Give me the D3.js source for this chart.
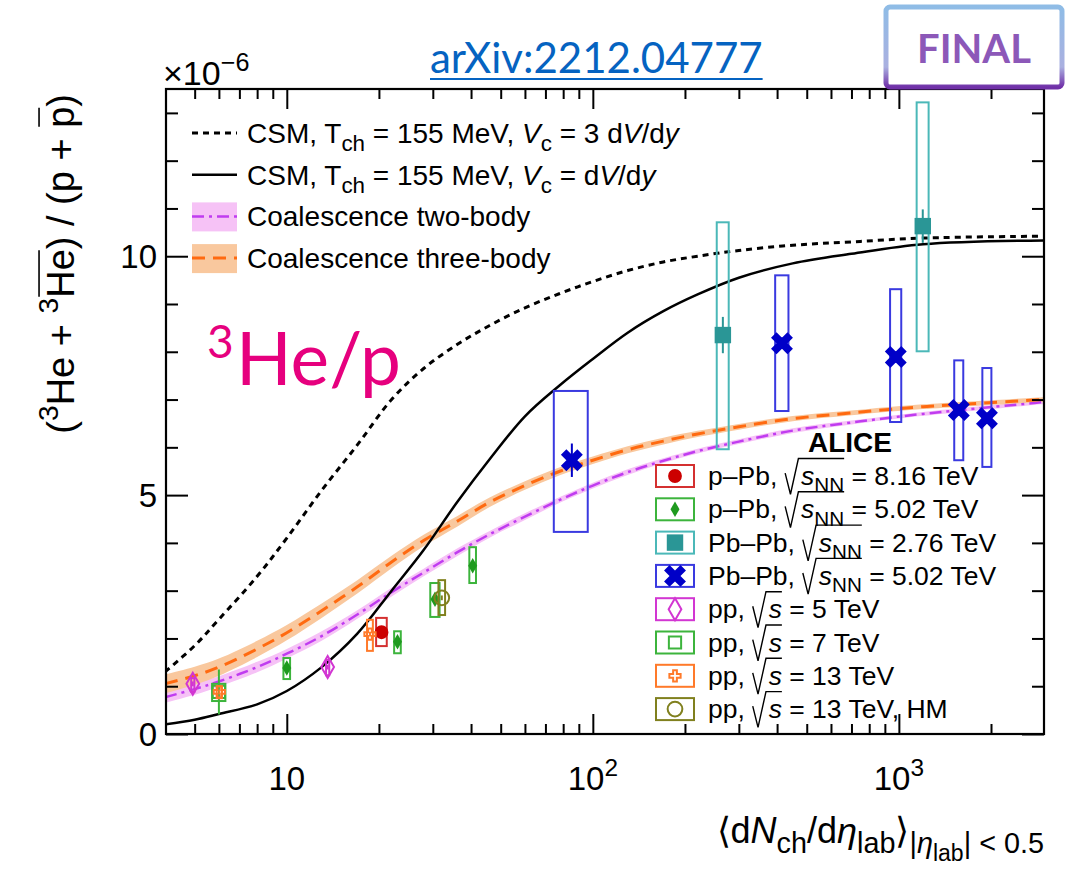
<!DOCTYPE html>
<html>
<head>
<meta charset="utf-8">
<script src="https://cdn.jsdelivr.net/npm/d3@7"></script>
<style>
  body { margin: 0; background: #fff; }
  svg { font-family: "Liberation Sans", Arial, sans-serif; }
  text { white-space: pre; }
</style>
</head>
<body>
<svg id="chart" width="1071" height="874"></svg>
<script>
// ---- data (ratio in units of 1e-6) ----
var modelX = [4, 5, 6, 8, 10, 13, 17, 22, 28, 36, 46, 60, 78, 100, 130, 170, 220, 300, 450, 700, 1200, 3000];
var csm3Y  = [1.3, 1.85, 2.4, 3.3, 4.1, 5.1, 6.05, 7.0, 7.65, 8.15, 8.55, 8.92, 9.22, 9.47, 9.7, 9.88, 10.0, 10.12, 10.23, 10.3, 10.38, 10.42];
var csm1Y  = [0.2, 0.3, 0.42, 0.62, 0.9, 1.4, 2.1, 3.0, 3.85, 4.85, 5.75, 6.65, 7.3, 7.85, 8.4, 8.85, 9.2, 9.55, 9.85, 10.05, 10.25, 10.33];
var coal2Y = [0.77, 0.94, 1.1, 1.4, 1.68, 2.05, 2.5, 2.97, 3.38, 3.8, 4.18, 4.55, 4.9, 5.2, 5.48, 5.72, 5.92, 6.12, 6.35, 6.52, 6.7, 6.95];
var coal2W = [0.12, 0.12, 0.11, 0.11, 0.1, 0.1, 0.09, 0.09, 0.08, 0.08, 0.07, 0.07, 0.06, 0.06, 0.06, 0.05, 0.05, 0.05, 0.05, 0.04, 0.04, 0.04];
var coal3Y = [1.05, 1.22, 1.4, 1.78, 2.12, 2.58, 3.08, 3.6, 4.05, 4.45, 4.85, 5.2, 5.5, 5.73, 5.95, 6.13, 6.28, 6.43, 6.6, 6.72, 6.85, 7.0];
var coal3W = [0.2, 0.19, 0.18, 0.17, 0.16, 0.15, 0.14, 0.13, 0.12, 0.11, 0.1, 0.09, 0.085, 0.08, 0.075, 0.07, 0.065, 0.06, 0.055, 0.05, 0.05, 0.05];

// x, y, stat error, systematic box low/high, relative x half-width of the box
var pPb816 = [{x: 20.4, y: 2.13, stat: 0.06, lo: 1.84, hi: 2.43, dx: 0.04}];
var pPb502 = [
  {x: 10.0, y: 1.38, stat: 0.06, lo: 1.15, hi: 1.59, dx: 0.025},
  {x: 23.0, y: 1.93, stat: 0.06, lo: 1.69, hi: 2.15, dx: 0.025},
  {x: 30.5, y: 2.82, stat: 0.08, lo: 2.45, hi: 3.16, dx: 0.035},
  {x: 40.5, y: 3.52, stat: 0.08, lo: 3.16, hi: 3.91, dx: 0.025}];
var PbPb276 = [
  {x: 266, y: 8.35, stat: 0.38, lo: 5.96, hi: 10.71, dx: 0.045},
  {x: 1197, y: 10.63, stat: 0.35, lo: 8.01, hi: 13.22, dx: 0.045}];
var PbPb502 = [
  {x: 85.4, y: 5.73, stat: 0.35, lo: 4.23, hi: 7.18, dx: 0.127},
  {x: 415, y: 8.18, stat: 0.12, lo: 6.76, hi: 9.60, dx: 0.05},
  {x: 977, y: 7.89, stat: 0.12, lo: 6.53, hi: 9.31, dx: 0.042},
  {x: 1570, y: 6.78, stat: 0.12, lo: 5.73, hi: 7.82, dx: 0.034},
  {x: 1940, y: 6.61, stat: 0.12, lo: 5.59, hi: 7.66, dx: 0.034}];
var pp5 = [
  {x: 4.93, y: 1.05, stat: 0.05, lo: 0.88, hi: 1.17, dx: 0.012},
  {x: 13.6, y: 1.40, stat: 0.05, lo: 1.23, hi: 1.55, dx: 0.012}];
var pp7 = [{x: 6.0, y: 0.88, stat: 0.47, lo: 0.69, hi: 1.05, dx: 0.05}];
var pp13 = [
  {x: 6.02, y: 0.88, stat: 0.05, lo: 0.75, hi: 1.0, dx: 0.02},
  {x: 18.7, y: 2.09, stat: 0.05, lo: 1.74, hi: 2.39, dx: 0.022}];
var pp13HM = [{x: 32.1, y: 2.85, stat: 0.05, lo: 2.49, hi: 3.22, dx: 0.025}];

var seriesNames = [
  "p–Pb, √{~{s}_{NN}} = 8.16 TeV",
  "p–Pb, √{~{s}_{NN}} = 5.02 TeV",
  "Pb–Pb, √{~{s}_{NN}} = 2.76 TeV",
  "Pb–Pb, √{~{s}_{NN}} = 5.02 TeV",
  "pp, √{~{s}} = 5 TeV",
  "pp, √{~{s}} = 7 TeV",
  "pp, √{~{s}} = 13 TeV",
  "pp, √{~{s}} = 13 TeV, HM"];
var modelNames = [
  "CSM, T_{ch} = 155 MeV, ~{V}_{c} = 3 d~{V}/d~{y}",
  "CSM, T_{ch} = 155 MeV, ~{V}_{c} = d~{V}/d~{y}",
  "Coalescence two-body",
  "Coalescence three-body"];

var xMajor = [10, 100, 1000];
var xMinor = [5, 6, 7, 8, 9, 20, 30, 40, 50, 60, 70, 80, 90, 200, 300, 400, 500, 600, 700, 800, 900, 2000];
var xTickLabels = ["10", "10^{2}", "10^{3}"];
var yMajor = [0, 5, 10];
var yMinor = [1, 2, 3, 4, 6, 7, 8, 9, 11, 12, 13];
var yTickLabels = ["0", "5", "10"];
var yExponent = "×10^{−6}";
var xTitle = "⟨d~{N}_{ch}/d~{η}_{lab}⟩_{|~{η}_{lab}| < 0.5}";
var yTitle = "(^{3}He + ^{3}‾{He}) / (p + ‾{p})";

// ---- styles ----
var series = [
  {data: pPb816,  color: "#cc0000", box: "#d43030", shape: "circle",  size: 150, filled: true},
  {data: pPb502,  color: "#1f9a1f", box: "#3cb43c", shape: "diamond", size: 70,  filled: true},
  {data: PbPb276, color: "#2a9696", box: "#4bb8b8", shape: "square",  size: 270, filled: true},
  {data: PbPb502, color: "#0000c8", box: "#3a3ae0", shape: "x",       size: 300, filled: true},
  {data: pp5,     color: "#d236d2", box: "#d236d2", shape: "diamond", size: 140, filled: false},
  {data: pp7,     color: "#3cb43c", box: "#3cb43c", shape: "square",  size: 150, filled: false},
  {data: pp13,    color: "#ff7a2a", box: "#ff7a2a", shape: "cross",   size: 70,  filled: false},
  {data: pp13HM,  color: "#80801e", box: "#80801e", shape: "circle",  size: 170, filled: false}];

var svg = d3.select("#chart");

var x = d3.scaleLog().domain([4.03, 2980]).range([166, 1044]);
var y = d3.scaleLinear().domain([0, 13.5]).range([734, 89]);

// ---- tiny ROOT-like latex: _{} ^{} ~{}italic √{} ‾{}bar ----
var ovCount = 0;
function parse(str, subScale, st, out) {
  out = out || [];
  st = st || {off: 0, sc: 1, it: false, ov: 0, rad: false};
  var i = 0, buf = "";
  function flush() { if (buf) { out.push(Object.assign({t: buf}, st)); buf = ""; } }
  while (i < str.length) {
    var c = str[i];
    if ("_^~√‾".indexOf(c) >= 0 && str[i + 1] === "{") {
      flush();
      var depth = 0, j = i + 1;
      for (; j < str.length; j++) {
        if (str[j] === "{") depth++;
        else if (str[j] === "}" && --depth === 0) break;
      }
      var ns = Object.assign({}, st);
      if (c === "_") { ns.off = st.off + 0.28 * st.sc; ns.sc = st.sc * subScale; }
      if (c === "^") { ns.off = st.off - 0.42 * st.sc; ns.sc = st.sc * subScale; }
      if (c === "~") ns.it = true;
      if (c === "√" || c === "‾") { ns.ov = ++ovCount; ns.rad = c === "√"; }
      parse(str.slice(i + 2, j), subScale, ns, out);
      i = j + 1;
    } else { buf += c; i++; }
  }
  flush();
  return out;
}

function richText(parent, str, fs, px, py, anchor, subScale) {
  var g = parent.append("g");
  var t = g.append("text").attr("x", px).attr("y", py)
    .attr("font-size", fs).attr("text-anchor", anchor || "start");
  var parts = parse(str, subScale || 0.74), prev = 0, idx = 0, groups = {};
  parts.forEach(function(p) {
    var ts = t.append("tspan").text(p.t).attr("font-size", fs * p.sc);
    if (p.off !== prev) ts.attr("dy", (p.off - prev) * fs);
    if (p.it) ts.attr("font-style", "italic");
    if (p.ov) {
      if (!groups[p.ov]) {
        groups[p.ov] = {a: idx, rad: p.rad};
        if (p.rad) ts.attr("dx", 0.62 * fs);
      }
      groups[p.ov].b = idx + p.t.length - 1;
    }
    prev = p.off; idx += p.t.length;
  });
  var node = t.node();
  Object.keys(groups).forEach(function(k) {
    var gr = groups[k];
    var s = node.getStartPositionOfChar(gr.a), e = node.getEndPositionOfChar(gr.b);
    var yb = s.y, top = yb - 1.0 * fs;
    if (gr.rad) {
      var x0 = s.x - 0.6 * fs;
      g.append("path")
        .attr("d", "M" + x0 + "," + (yb - 0.45 * fs) + "L" + (x0 + 0.2 * fs) + "," + (yb + 0.35 * fs) +
          "L" + (x0 + 0.5 * fs) + "," + top + "L" + e.x + "," + top)
        .attr("fill", "none").attr("stroke", "#000").attr("stroke-width", 1.4);
    } else {
      g.append("line").attr("x1", s.x + 1).attr("x2", e.x - 1)
        .attr("y1", yb - 0.92 * fs).attr("y2", yb - 0.92 * fs)
        .attr("stroke", "#000").attr("stroke-width", 1.6);
    }
  });
  return g;
}

function drawMarker(g, st, cx, cy) {
  var type = {circle: d3.symbolCircle, diamond: d3.symbolDiamond, square: d3.symbolSquare,
              x: d3.symbolCross, cross: d3.symbolCross}[st.shape];
  g.append("path")
    .attr("d", d3.symbol(type, st.size)())
    .attr("transform", "translate(" + cx + "," + cy + ")" + (st.shape === "x" ? " rotate(45)" : ""))
    .attr("fill", st.filled ? st.color : "none")
    .attr("stroke", st.color)
    .attr("stroke-width", st.filled ? 0 : 2);
}

// ---- plot area ----
svg.append("defs").append("clipPath").attr("id", "frame")
  .append("rect").attr("x", 166).attr("y", 89).attr("width", 878).attr("height", 645);

var plot = svg.append("g").attr("clip-path", "url(#frame)");

var smooth = d3.curveCatmullRom.alpha(0.5);
function band(ys, ws) {
  return d3.area()
    .x(function(d, i) { return x(modelX[i]); })
    .y0(function(d, i) { return y(ys[i] - ws[i]); })
    .y1(function(d, i) { return y(ys[i] + ws[i]); })
    .curve(smooth)(ys);
}
function curve(ys) {
  return d3.line()
    .x(function(d, i) { return x(modelX[i]); })
    .y(function(d) { return y(d); })
    .curve(smooth)(ys);
}

plot.append("path").attr("d", band(coal2Y, coal2W)).attr("fill", "#f6c2f6");
plot.append("path").attr("d", band(coal3Y, coal3W)).attr("fill", "#f9c89e");
plot.append("path").attr("d", curve(coal2Y)).attr("fill", "none")
  .attr("stroke", "#c03cf0").attr("stroke-width", 2.5).attr("stroke-dasharray", "12,5,3,5");
plot.append("path").attr("d", curve(coal3Y)).attr("fill", "none")
  .attr("stroke", "#ff6a10").attr("stroke-width", 3).attr("stroke-dasharray", "13,8");
plot.append("path").attr("d", curve(csm3Y)).attr("fill", "none")
  .attr("stroke", "#000").attr("stroke-width", 3).attr("stroke-dasharray", "6,5");
plot.append("path").attr("d", curve(csm1Y)).attr("fill", "none")
  .attr("stroke", "#000").attr("stroke-width", 2.5);

series.forEach(function(st) {
  var g = plot.append("g");
  st.data.forEach(function(p) {
    var x0 = x(p.x * (1 - p.dx)), x1 = x(p.x * (1 + p.dx));
    g.append("rect").attr("x", x0).attr("y", y(p.hi))
      .attr("width", x1 - x0).attr("height", y(p.lo) - y(p.hi))
      .attr("fill", "none").attr("stroke", st.box).attr("stroke-width", 2);
    g.append("line").attr("x1", x(p.x)).attr("x2", x(p.x))
      .attr("y1", y(p.y - p.stat)).attr("y2", y(p.y + p.stat))
      .attr("stroke", st.color).attr("stroke-width", 2);
    drawMarker(g, st, x(p.x), y(p.y));
  });
});

// ---- axes ----
function noLabels(axis) { return axis.tickFormat("").tickSizeOuter(0); }
var axes = svg.append("g");
[[d3.axisBottom, 734, xMajor, 20], [d3.axisBottom, 734, xMinor, 10],
 [d3.axisTop, 89, xMajor, 20], [d3.axisTop, 89, xMinor, 10]].forEach(function(a) {
  axes.append("g").attr("transform", "translate(0," + a[1] + ")")
    .call(noLabels(a[0](x).tickValues(a[2]).tickSize(-a[3])))
    .call(function(s) { s.select(".domain").remove(); s.selectAll("line").attr("stroke-width", 2); });
});
[[d3.axisLeft, 166, yMajor, 22], [d3.axisLeft, 166, yMinor, 12],
 [d3.axisRight, 1044, yMajor, 22], [d3.axisRight, 1044, yMinor, 12]].forEach(function(a) {
  axes.append("g").attr("transform", "translate(" + a[1] + ",0)")
    .call(noLabels(a[0](y).tickValues(a[2]).tickSize(-a[3])))
    .call(function(s) { s.select(".domain").remove(); s.selectAll("line").attr("stroke-width", 2); });
});
svg.append("rect").attr("x", 166).attr("y", 89).attr("width", 878).attr("height", 645)
  .attr("fill", "none").attr("stroke", "#000").attr("stroke-width", 2.2);

xMajor.forEach(function(v, i) { richText(svg, xTickLabels[i], 33, x(v), 790, "middle"); });
yMajor.forEach(function(v, i) { richText(svg, yTickLabels[i], 33, 157, y(v) + 12, "end"); });
richText(svg, yExponent, 34, 163, 85, "start");
richText(svg, xTitle, 36, 1044, 843, "end", 0.8);
richText(svg.append("g").attr("transform", "translate(74,94) rotate(-90)"), yTitle, 38, 0, 0, "end");

// ---- model legend ----
var lg = svg.append("g");
modelNames.forEach(function(name, i) {
  var cy = 133 + i * 41.7;
  if (i === 2) lg.append("rect").attr("x", 192).attr("y", cy - 14).attr("width", 45).attr("height", 29).attr("fill", "#f6c2f6");
  if (i === 3) lg.append("rect").attr("x", 192).attr("y", cy - 14).attr("width", 45).attr("height", 29).attr("fill", "#f9c89e");
  var ln = lg.append("line").attr("x1", 192).attr("x2", 237).attr("y1", cy).attr("y2", cy);
  if (i === 0) ln.attr("stroke", "#000").attr("stroke-width", 3).attr("stroke-dasharray", "6,5");
  if (i === 1) ln.attr("stroke", "#000").attr("stroke-width", 2.5);
  if (i === 2) ln.attr("stroke", "#c03cf0").attr("stroke-width", 2.5).attr("stroke-dasharray", "12,5,3,5");
  if (i === 3) ln.attr("stroke", "#ff6a10").attr("stroke-width", 3).attr("stroke-dasharray", "13,8");
  richText(lg, name, 28, 247, cy + 10, "start", 0.8);
});

// ---- data legend ----
var dl = svg.append("g");
dl.append("text").attr("x", 850).attr("y", 452).attr("text-anchor", "middle")
  .attr("font-size", 28).attr("font-weight", "bold").text("ALICE");
series.forEach(function(st, i) {
  var cy = 476 + i * 33.3;
  dl.append("rect").attr("x", 656).attr("y", cy - 11).attr("width", 38).attr("height", 22)
    .attr("fill", "none").attr("stroke", st.box).attr("stroke-width", 2);
  drawMarker(dl, st, 675, cy);
  richText(dl, seriesNames[i], 26.5, 708, cy + 9, "start", 0.78);
});

// ---- slide annotations ----
var ann = svg.append("g").attr("font-family", "Lato, 'Open Sans', sans-serif");
ann.append("text").attr("x", 207).attr("y", 358).attr("font-size", 46).attr("fill", "#e6007e").text("3");
ann.append("text").attr("x", 236).attr("y", 385).attr("font-size", 73).attr("fill", "#e6007e").text("He/p");

var arx = ann.append("text").attr("x", 430).attr("y", 73).attr("font-size", 42).attr("fill", "#0563c1").text("arXiv:2212.04777");
var arxW = arx.node().getComputedTextLength();
ann.append("line").attr("x1", 430).attr("x2", 430 + arxW).attr("y1", 79).attr("y2", 79)
  .attr("stroke", "#0563c1").attr("stroke-width", 2);

var grad = svg.select("defs").append("linearGradient").attr("id", "fin")
  .attr("x1", 0).attr("y1", 0).attr("x2", 0).attr("y2", 1);
grad.append("stop").attr("offset", "0%").attr("stop-color", "#8fbce6");
grad.append("stop").attr("offset", "75%").attr("stop-color", "#aab0e0");
grad.append("stop").attr("offset", "100%").attr("stop-color", "#7030a8");
ann.append("rect").attr("x", 886).attr("y", 7).attr("width", 176).attr("height", 80).attr("rx", 4)
  .attr("fill", "#fff").attr("stroke", "url(#fin)").attr("stroke-width", 5);
ann.append("text").attr("x", 974).attr("y", 63).attr("text-anchor", "middle")
  .attr("font-size", 40).attr("font-weight", "bold").attr("fill", "#8c58b8").text("FINAL");
</script>
</body>
</html>
